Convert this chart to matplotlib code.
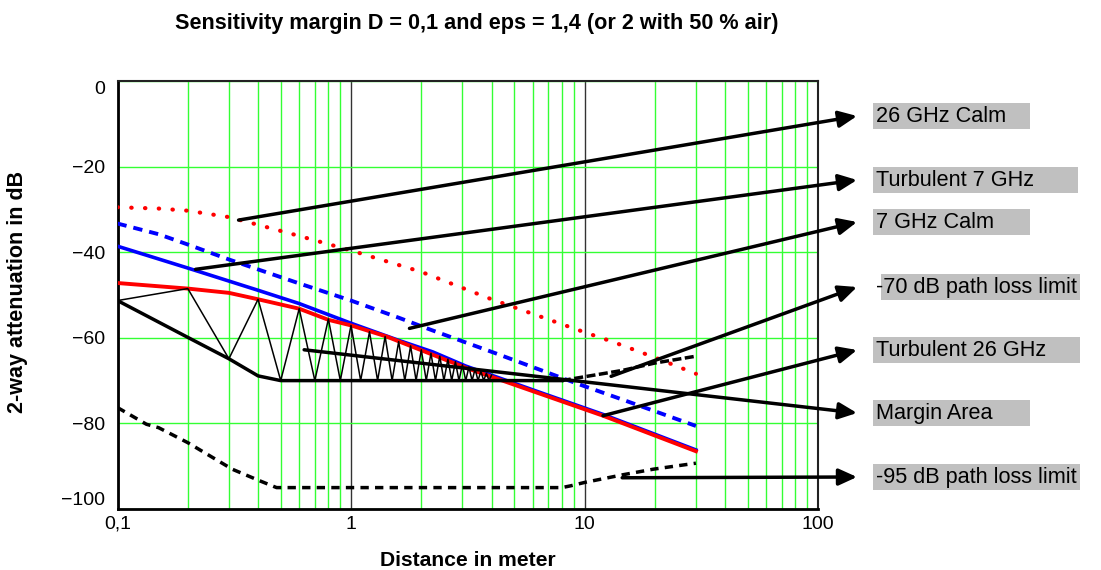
import numpy as np
import matplotlib
matplotlib.use("Agg")
import matplotlib.pyplot as plt
from matplotlib.patches import Rectangle

plt.rcParams['font.family'] = ['Liberation Sans', 'DejaVu Sans']

# ---------------- data ----------------
calm26_x = [0.1, 0.15, 0.2, 0.3, 0.4, 0.6, 1.0, 2.0, 4.0, 6.0, 10.0, 13.0, 20.0, 30.0]
calm26_y = [-29.5, -29.8, -30.3, -31.8, -33.6, -36.2, -39.6, -44.6, -51.0, -54.4, -58.7, -60.8, -64.6, -68.4]

calm7_x = [0.1, 0.15, 0.2, 0.3, 0.6, 1.0, 1.6, 2.24, 4.2, 9.3, 15.0, 30.0]
calm7_y = [-33.3, -35.8, -38.2, -41.7, -47.3, -51.3, -55.3, -58.3, -63.7, -70.7, -74.7, -80.6]

turb7_x = [0.1, 0.2, 0.4, 0.6, 1.0, 1.6, 2.24, 3.1, 6.4, 12.0, 30.0]
turb7_y = [-38.6, -43.7, -48.9, -52.0, -56.6, -60.6, -63.3, -66.6, -72.7, -77.9, -86.2]

turb26_x = [0.1, 0.2, 0.3, 0.4, 0.6, 0.8, 1.0, 1.42, 2.0, 3.1, 6.4, 12.0, 30.0]
turb26_y = [-47.2, -48.5, -49.5, -51.0, -53.2, -55.8, -57.1, -59.7, -62.9, -67.0, -73.0, -78.2, -86.5]

lim70_x = [0.1, 0.2, 0.3, 0.4, 0.5, 8.0]
lim70_y = [-51.3, -59.9, -64.9, -68.9, -70.0, -70.0]
lim70_tail_x = [8.0, 10.0, 14.6, 20.0, 30.0]
lim70_tail_y = [-70.0, -69.1, -67.6, -65.9, -64.3]

lim95_x = [0.1, 0.133, 0.15, 0.2, 0.31, 0.406, 0.48, 8.0, 8.7, 10.0, 14.6, 19.7, 30.0]
lim95_y = [-76.3, -80.2, -81.0, -84.5, -90.7, -93.4, -95.0, -95.0, -94.6, -93.8, -92.0, -90.7, -89.3]

# margin-area zigzag vertices (alternating lower limit / turbulent 26 GHz)
margin_x = [0.1, 0.2, 0.3, 0.4, 0.5, 0.6, 0.7, 0.8, 0.9, 1.0, 1.1, 1.2, 1.3, 1.4,
            1.5, 1.6, 1.7, 1.8, 1.9, 2.0, 2.1, 2.2, 2.3, 2.4, 2.5, 2.6, 2.7, 2.8,
            2.9, 3.0, 3.1, 3.2, 3.3, 3.4, 3.5, 3.6, 3.7, 3.8, 3.9, 4.0]
margin_y = [-51.3, -48.5, -64.9, -51.0, -70, -53.2, -70, -55.6, -70, -57.1,
            -70, -58.6, -70, -59.7, -70, -60.9, -70, -61.9, -70, -62.8,
            -70, -63.6, -70, -64.3, -70, -65.0, -70, -65.6, -70, -66.3,
            -70, -66.8, -70, -67.3, -70, -67.8, -70, -68.3, -70, -68.7]

labels = ["26 GHz Calm", "Turbulent 7 GHz", "7 GHz Calm", "-70 dB path loss limit",
          "Turbulent 26 GHz", "Margin Area", "-95 dB path loss limit"]
label_targets = [(0.33, -32.5), (0.216, -44.0), (1.78, -57.8), (13.0, -69.0),
                 (12.0, -78.2), (0.63, -62.8), (14.5, -92.7)]

xticks = [0.1, 1, 10, 100]
xticklabels = ["0,1", "1", "10", "100"]
yticks = [0, -20, -40, -60, -80, -100]
yticklabels = ["0", "\u221220", "\u221240", "\u221260", "\u221280", "\u2212100"]

# ---------------- layout ----------------
W, H = 1101, 570
fig = plt.figure(figsize=(W / 100, H / 100), dpi=100)
L, R, T, B = 117.5, 818, 81, 509
ax = fig.add_axes([L / W, (H - B) / H, (R - L) / W, (B - T) / H])
ax.set_xscale('log')
ax.set_xlim(0.1, 100)
ax.set_ylim(-100, 0)

green = '#33ff33'
ax.set_xticks(xticks)
ax.set_xticklabels(xticklabels)
ax.set_yticks(yticks)
ax.set_yticklabels(yticklabels)
ax.xaxis.grid(True, which='minor', color=green, lw=1.0, zorder=0)
ax.xaxis.grid(True, which='major', color='#333333', lw=1.0, zorder=0)
ax.yaxis.grid(True, which='major', color=green, lw=1.0, zorder=0)
ax.set_axisbelow(True)
ax.tick_params(axis='both', which='both', length=0)
ax.tick_params(axis='y', pad=9, labelsize=14)
ax.tick_params(axis='x', pad=5, labelsize=14)
ylabs = ax.get_yticklabels()
ylabs[0].set_verticalalignment('top')
ylabs[-1].set_verticalalignment('bottom')
for side in ['left', 'bottom']:
    ax.spines[side].set_linewidth(2.0)
for side in ['top', 'right']:
    ax.spines[side].set_linewidth(1.5)
    ax.spines[side].set_color('#222222')

# ---------------- curves ----------------
ax.plot(calm26_x, calm26_y, color='red', lw=3.0, linestyle=(0, (0.1, 3.2)),
        dash_capstyle='round', zorder=3)
ax.plot(calm7_x, calm7_y, color='blue', lw=2.8, linestyle=(0, (2.4, 1.8)), zorder=3)
ax.plot(turb7_x, turb7_y, color='blue', lw=2.6, zorder=3)
ax.plot(turb26_x, turb26_y, color='red', lw=2.8, zorder=4)
ax.plot(lim70_x, lim70_y, color='black', lw=2.5, zorder=5)
ax.plot(lim70_tail_x, lim70_tail_y, color='black', lw=2.5, linestyle=(0, (2.6, 1.0)), zorder=5)
ax.plot(lim95_x, lim95_y, color='black', lw=2.5, linestyle=(0, (2.4, 1.8)), zorder=5)
ax.plot(margin_x, margin_y, color='black', lw=1.1, zorder=5)

# ---------------- labels with arrows ----------------
head_x = 857
label_y = [116, 180, 222, 287, 350, 413, 477]
box_x0 = [873, 873, 873, 881, 873, 873, 873]
box_w = [157, 205, 157, 199, 207, 157, 207]
box_h = 26
for lab, (tx, ty), ly, bx, bw in zip(labels, label_targets, label_y, box_x0, box_w):
    ax.annotate('', xy=(head_x, H - ly), xycoords='figure pixels',
                xytext=(tx, ty), textcoords='data',
                arrowprops=dict(arrowstyle='-|>,head_length=1.1,head_width=0.5',
                                lw=2.5, color='black', shrinkA=0, shrinkB=0),
                annotation_clip=False, zorder=6)
    fig.add_artist(Rectangle((bx / W, (H - ly - box_h / 2) / H), bw / W, box_h / H,
                             transform=fig.transFigure, facecolor='#c0c0c0',
                             edgecolor='none', zorder=1))
    fig.text(876 / W, (H - ly) / H, lab, fontsize=15.6, ha='left', va='center',
             color='black', zorder=2)

fig.text(477 / W, (H - 24) / H, "Sensitivity margin D = 0,1 and eps = 1,4 (or 2 with 50 % air)",
         fontsize=15.6, fontweight='bold', ha='center', va='center')
fig.text(468 / W, (H - 561) / H, "Distance in meter", fontsize=15.2, fontweight='bold',
         ha='center', va='center')
fig.text(18 / W, (H - 292) / H, "2-way attenuation in dB", fontsize=15.5, fontweight='bold',
         ha='center', va='center', rotation=90)

fig.savefig("out.png", dpi=100)
